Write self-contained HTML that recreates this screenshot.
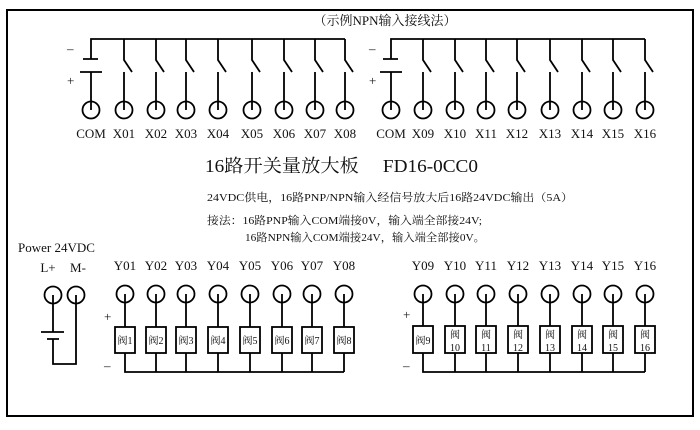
<!DOCTYPE html>
<html><head><meta charset="utf-8"><style>
html,body{margin:0;padding:0;background:#fff;}
svg{display:block;}
text{font-family:"Liberation Serif","Noto Serif CJK SC","Noto Sans CJK SC",serif;fill:#111;}
</style></head><body>
<svg width="700" height="430" viewBox="0 0 700 430" xmlns="http://www.w3.org/2000/svg">
<g fill="none" stroke="#000" stroke-width="1.8">
<rect x="7" y="10" width="686" height="406" stroke-width="2"/>
<path d="M91 59 V39 H345"/>
<path d="M83 59 H98 M80 72 H102 M91 72 V110"/>
<path d="M391 59 V39 H645"/>
<path d="M383 59 H398 M380 72 H402 M391 72 V110"/>
</g>
<g fill="none" stroke="#000" stroke-width="1.8">
<path d="M124 39V60L132 72M124 72V110"/>
<path d="M156 39V60L164 72M156 72V110"/>
<path d="M186 39V60L194 72M186 72V110"/>
<path d="M218 39V60L226 72M218 72V110"/>
<path d="M252 39V60L260 72M252 72V110"/>
<path d="M284 39V60L292 72M284 72V110"/>
<path d="M315 39V60L323 72M315 72V110"/>
<path d="M345 39V60L353 72M345 72V110"/>
<path d="M423 39V60L431 72M423 72V110"/>
<path d="M455 39V60L463 72M455 72V110"/>
<path d="M486 39V60L494 72M486 72V110"/>
<path d="M517 39V60L525 72M517 72V110"/>
<path d="M550 39V60L558 72M550 72V110"/>
<path d="M582 39V60L590 72M582 72V110"/>
<path d="M613 39V60L621 72M613 72V110"/>
<path d="M645 39V60L653 72M645 72V110"/>
<circle cx="91" cy="110" r="8.5"/><circle cx="124" cy="110" r="8.5"/><circle cx="156" cy="110" r="8.5"/><circle cx="186" cy="110" r="8.5"/><circle cx="218" cy="110" r="8.5"/><circle cx="252" cy="110" r="8.5"/><circle cx="284" cy="110" r="8.5"/><circle cx="315" cy="110" r="8.5"/><circle cx="345" cy="110" r="8.5"/>
<circle cx="391" cy="110" r="8.5"/><circle cx="423" cy="110" r="8.5"/><circle cx="455" cy="110" r="8.5"/><circle cx="486" cy="110" r="8.5"/><circle cx="517" cy="110" r="8.5"/><circle cx="550" cy="110" r="8.5"/><circle cx="582" cy="110" r="8.5"/><circle cx="613" cy="110" r="8.5"/><circle cx="645" cy="110" r="8.5"/>
<circle cx="53" cy="295" r="8.5"/><circle cx="76" cy="295" r="8.5"/>
<path d="M53 295V332M41 332H64M47 339H59M53 339V364H76V295"/>
<path d="M125 294V372H344M156 294V372M186 294V372M218 294V372M250 294V372M282 294V372M312 294V372M344 294V372"/>
<path d="M423 294V372H645M455 294V372M486 294V372M518 294V372M550 294V372M582 294V372M613 294V372M645 294V372"/>
<circle cx="125" cy="294" r="8.5"/><circle cx="156" cy="294" r="8.5"/><circle cx="186" cy="294" r="8.5"/><circle cx="218" cy="294" r="8.5"/><circle cx="250" cy="294" r="8.5"/><circle cx="282" cy="294" r="8.5"/><circle cx="312" cy="294" r="8.5"/><circle cx="344" cy="294" r="8.5"/>
<circle cx="423" cy="294" r="8.5"/><circle cx="455" cy="294" r="8.5"/><circle cx="486" cy="294" r="8.5"/><circle cx="518" cy="294" r="8.5"/><circle cx="550" cy="294" r="8.5"/><circle cx="582" cy="294" r="8.5"/><circle cx="613" cy="294" r="8.5"/><circle cx="645" cy="294" r="8.5"/>
</g>
<g fill="#fff" stroke="#000" stroke-width="1.8">
<rect x="115" y="327" width="20" height="26"/><rect x="146" y="327" width="20" height="26"/><rect x="176" y="327" width="20" height="26"/><rect x="208" y="327" width="20" height="26"/><rect x="240" y="327" width="20" height="26"/><rect x="272" y="327" width="20" height="26"/><rect x="302" y="327" width="20" height="26"/><rect x="334" y="327" width="20" height="26"/>
<rect x="413" y="326" width="20" height="27"/><rect x="445" y="326" width="20" height="27"/><rect x="476" y="326" width="20" height="27"/><rect x="508" y="326" width="20" height="27"/><rect x="540" y="326" width="20" height="27"/><rect x="572" y="326" width="20" height="27"/><rect x="603" y="326" width="20" height="27"/><rect x="635" y="326" width="20" height="27"/>
</g>
<g font-size="10" text-anchor="middle">
<text x="125" y="344">阀1</text><text x="156" y="344">阀2</text><text x="186" y="344">阀3</text><text x="218" y="344">阀4</text><text x="250" y="344">阀5</text><text x="282" y="344">阀6</text><text x="312" y="344">阀7</text><text x="344" y="344">阀8</text>
<text x="423" y="344">阀9</text>
<text x="455" y="338">阀</text><text x="455" y="351">10</text>
<text x="486" y="338">阀</text><text x="486" y="351">11</text>
<text x="518" y="338">阀</text><text x="518" y="351">12</text>
<text x="550" y="338">阀</text><text x="550" y="351">13</text>
<text x="582" y="338">阀</text><text x="582" y="351">14</text>
<text x="613" y="338">阀</text><text x="613" y="351">15</text>
<text x="645" y="338">阀</text><text x="645" y="351">16</text>
</g>
<g font-size="13" text-anchor="middle">
<text x="91" y="138">COM</text><text x="124" y="138">X01</text><text x="156" y="138">X02</text><text x="186" y="138">X03</text><text x="218" y="138">X04</text><text x="252" y="138">X05</text><text x="284" y="138">X06</text><text x="315" y="138">X07</text><text x="345" y="138">X08</text>
<text x="391" y="138">COM</text><text x="423" y="138">X09</text><text x="455" y="138">X10</text><text x="486" y="138">X11</text><text x="517" y="138">X12</text><text x="550" y="138">X13</text><text x="582" y="138">X14</text><text x="613" y="138">X15</text><text x="645" y="138">X16</text>
<text x="125" y="270">Y01</text><text x="156" y="270">Y02</text><text x="186" y="270">Y03</text><text x="218" y="270">Y04</text><text x="250" y="270">Y05</text><text x="282" y="270">Y06</text><text x="312" y="270">Y07</text><text x="344" y="270">Y08</text>
<text x="423" y="270">Y09</text><text x="455" y="270">Y10</text><text x="486" y="270">Y11</text><text x="518" y="270">Y12</text><text x="550" y="270">Y13</text><text x="582" y="270">Y14</text><text x="613" y="270">Y15</text><text x="645" y="270">Y16</text>
<text x="48" y="272">L+</text><text x="78" y="272">M-</text>
<text x="385" y="25">（示例NPN输入接线法）</text>
</g>
<g font-size="13">
<text x="18" y="252">Power 24VDC</text>
<text x="67" y="53">–</text><text x="67" y="85">+</text>
<text x="369" y="53">–</text><text x="369" y="85">+</text>
<text x="104" y="321">+</text><text x="104" y="370">–</text>
<text x="403" y="319">+</text><text x="403" y="370">–</text>
</g>
<text x="205" y="172" font-size="18" textLength="273" lengthAdjust="spacingAndGlyphs">16路开关量放大板　 FD16-0CC0</text>
<text x="207" y="201" font-size="11" textLength="366" lengthAdjust="spacingAndGlyphs">24VDC供电，16路PNP/NPN输入经信号放大后16路24VDC输出（5A）</text>
<text x="207" y="224" font-size="11" textLength="275" lengthAdjust="spacingAndGlyphs">接法：16路PNP输入COM端接0V，输入端全部接24V;</text>
<text x="245" y="241" font-size="11" textLength="240" lengthAdjust="spacingAndGlyphs">16路NPN输入COM端接24V，输入端全部接0V。</text>
</svg>
</body></html>
